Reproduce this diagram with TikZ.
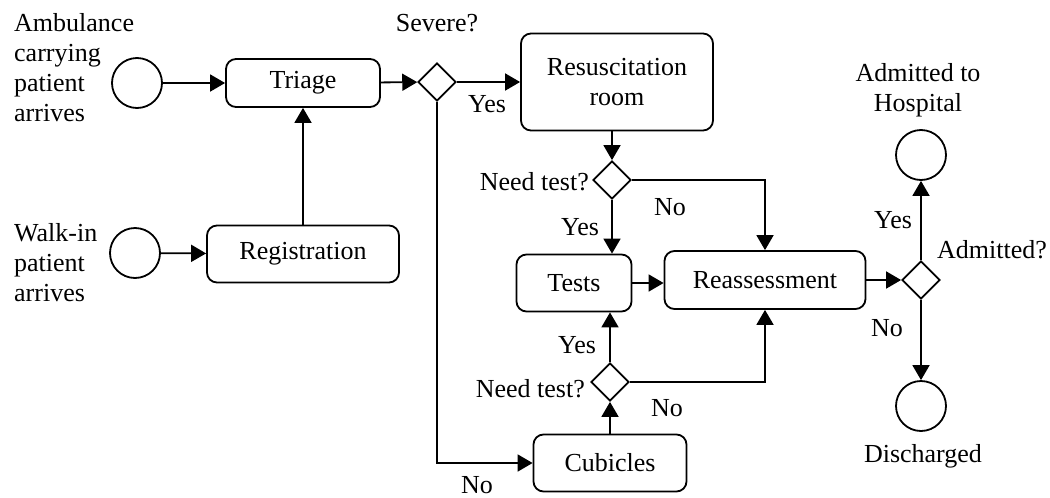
\documentclass[tikz,border=0pt]{standalone}
\usepackage{fontspec}
\setmainfont{Liberation Serif}
\usetikzlibrary{shapes.geometric,arrows.meta}
\begin{document}
\begin{tikzpicture}[x=1pt,y=-1pt,
  font=\fontsize{26}{30}\selectfont,
  every node/.style={inner sep=0pt},
  proc/.style={draw,line width=1.8pt,rounded corners=10pt,align=center},
  event/.style={draw,circle,line width=1.8pt,minimum size=50pt},
  gate/.style={draw,diamond,line width=1.8pt,minimum width=38pt,minimum height=38pt},
  flow/.style={line width=1.8pt,-{Triangle[length=15pt,width=17pt]}},
  lbl/.style={align=center}]
\useasboundingbox (0,0) rectangle (1050,498);

% start events
\node[event] (amb) at (137,83) {};
\node[lbl,align=left,anchor=west] (amblbl) at (14,68) {Ambulance\\carrying\\patient\\arrives};
\node[event] (walk) at (135,253) {};
\node[lbl,align=left,anchor=west] (walklbl) at (14,263) {Walk-in\\patient\\arrives};

% activities
\node[proc,minimum width=154pt,minimum height=48pt] (triage) at (303,83) {Triage};
\node[proc,minimum width=192pt,minimum height=57pt] (reg) at (303,254) {Registration};
\node[proc,minimum width=192pt,minimum height=97pt] (resus) at (617,82) {Resuscitation\\room};
\node[proc,minimum width=115pt,minimum height=57pt] (tests) at (574,283) {Tests};
\node[proc,minimum width=201pt,minimum height=58pt] (reass) at (765,280) {Reassessment};
\node[proc,minimum width=153pt,minimum height=57pt] (cub) at (610,463) {Cubicles};

% gateways
\node[gate] (sev) at (437,82) {};
\node[lbl] (sevlbl) at (437,23) {Severe?};
\node[gate] (nt1) at (612,180) {};
\node[lbl,anchor=east] (nt1lbl) at (589,182) {Need test?};
\node[gate] (nt2) at (610,382) {};
\node[lbl,anchor=east] (nt2lbl) at (585,389) {Need test?};
\node[gate] (admd) at (921,280) {};
\node[lbl] (admdlbl) at (992,250) {Admitted?};

% end events
\node[event] (adm) at (921,155) {};
\node[lbl] (admlbl) at (918,90) {Admitted to\\Hospital};
\node[event] (dis) at (921,406) {};
\node[lbl] (dislbl) at (923,456) {Discharged};

% branch labels
\node[lbl] (yes1) at (487,104) {Yes};
\node[lbl] (no1) at (477,485) {No};
\node[lbl] (yes2) at (580,227) {Yes};
\node[lbl] (no2) at (670,207) {No};
\node[lbl] (yes3) at (577,345) {Yes};
\node[lbl] (no3) at (667,408) {No};
\node[lbl] (yes4) at (893,220) {Yes};
\node[lbl] (no4) at (887,328) {No};

% flows
\draw[flow] (amb) -- (triage);
\draw[flow] (walk) -- (reg);
\draw[flow] (reg) -- (triage);
\draw[flow] (triage) -- (sev);
\draw[flow] (sev.east) -- (sev.east -| resus.west);
\draw[flow] (sev.south) |- (cub.west);
\draw[flow] (nt1.north |- resus.south) -- (nt1.north);
\draw[flow] (nt1.south) -- (nt1.south |- tests.north);
\draw[flow] (nt1.east) -| (reass.north);
\draw[flow] (tests.east) -- (tests.east -| reass.west);
\draw[flow] (cub.north) -- (nt2.south);
\draw[flow] (nt2.north) -- (nt2.north |- tests.south);
\draw[flow] (nt2.east) -| (reass.south);
\draw[flow] (reass.east) -- (admd.west);
\draw[flow] (admd.north) -- (adm.south);
\draw[flow] (admd.south) -- (dis.north);
\end{tikzpicture}
\end{document}
